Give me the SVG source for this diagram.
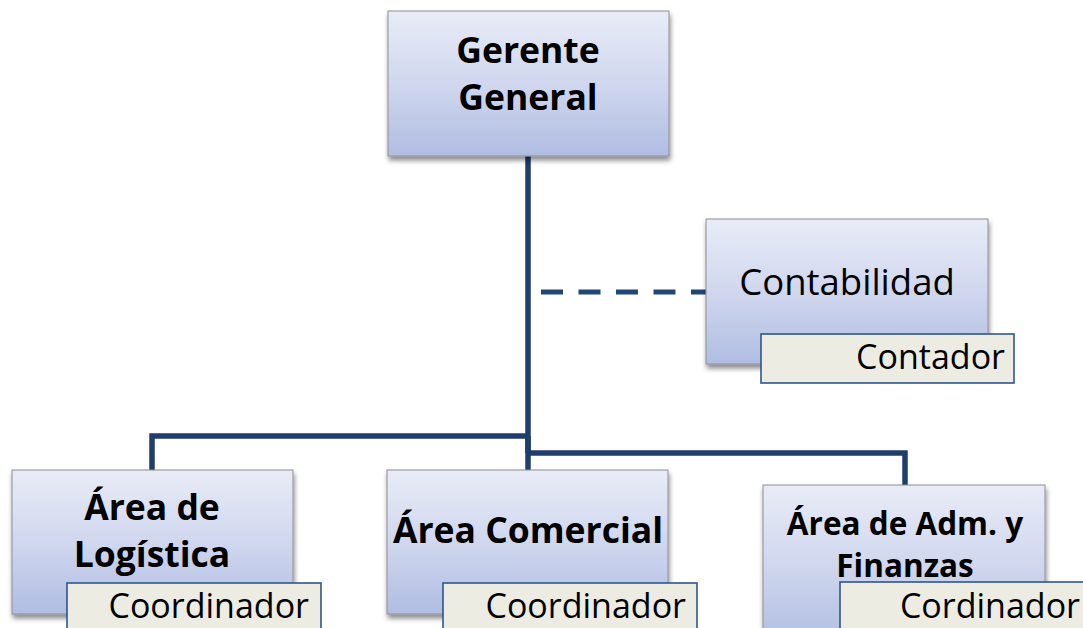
<svg xmlns="http://www.w3.org/2000/svg" width="1083" height="628" viewBox="0 0 1083 628">
  <defs>
    <linearGradient id="boxFill" x1="0" y1="0" x2="0" y2="1">
      <stop offset="0" stop-color="#E9ECF7"/>
      <stop offset="0.5" stop-color="#D0D7EE"/>
      <stop offset="1" stop-color="#B0BDE2"/>
    </linearGradient>
    <filter id="shadow" x="-10%" y="-10%" width="125%" height="130%">
      <feDropShadow dx="1" dy="4" stdDeviation="2.5" flood-color="#000" flood-opacity="0.45"/>
    </filter>
  </defs>
  <style>
    .box { fill: url(#boxFill); stroke: #8E8E96; stroke-width: 1; filter: url(#shadow); }
    .tag { fill: #EDECE2; stroke: #2D578F; stroke-width: 1.6; }
    .title { font-family: "Open Sans", Lato, sans-serif; font-weight: bold; fill: #000; text-anchor: middle; }
    .plain { font-family: "Open Sans", Lato, sans-serif; fill: #000; }
    .link { fill: none; stroke: #1F3D6D; stroke-width: 5.5; stroke-linejoin: miter; }
    .dash { fill: none; stroke: #1F477A; stroke-width: 5; stroke-dasharray: 22 15.5; }
  </style>
  <rect width="1083" height="628" fill="#FFFFFF"/>

  <g id="connectors">
    <path class="link" d="M528 156 V453"/>
    <path class="link" d="M528 436 H152 V471"/>
    <path class="link" d="M528 436 V471"/>
    <path class="link" d="M528 453 H905 V486"/>
    <path class="dash" d="M541 292 H706"/>
  </g>

  <g id="gerente-general">
    <rect class="box" x="388" y="11" width="281" height="145"/>
    <text class="title" x="528" y="63" font-size="35.5">Gerente</text>
    <text class="title" x="528" y="110" font-size="35.5">General</text>
  </g>

  <g id="contabilidad">
    <rect class="box" x="706" y="219" width="282" height="145"/>
    <text class="plain" x="847" y="295" font-size="36.5" text-anchor="middle">Contabilidad</text>
    <rect class="tag" x="761" y="334" width="253" height="49"/>
    <text class="plain" x="1005" y="369" font-size="34" text-anchor="end">Contador</text>
  </g>

  <g id="area-logistica">
    <rect class="box" x="12" y="470" width="281" height="144"/>
    <text class="title" x="152" y="520" font-size="35.5">Área de</text>
    <text class="title" x="152" y="567" font-size="35.5">Logística</text>
    <rect class="tag" x="67" y="583" width="254" height="60"/>
    <text class="plain" x="309" y="618" font-size="34" text-anchor="end">Coordinador</text>
  </g>

  <g id="area-comercial">
    <rect class="box" x="387" y="470" width="281" height="144"/>
    <text class="title" x="528" y="543" font-size="35.5">Área Comercial</text>
    <rect class="tag" x="443" y="583" width="254" height="60"/>
    <text class="plain" x="686" y="618" font-size="34" text-anchor="end">Coordinador</text>
  </g>

  <g id="area-adm-finanzas">
    <rect class="box" x="763" y="485" width="282" height="160"/>
    <text class="title" x="905" y="535" font-size="31.5">Área de Adm. y</text>
    <text class="title" x="905" y="577" font-size="31.5">Finanzas</text>
    <rect class="tag" x="840" y="582" width="260" height="60"/>
    <text class="plain" x="1080" y="618" font-size="34" text-anchor="end">Cordinador</text>
  </g>
</svg>
